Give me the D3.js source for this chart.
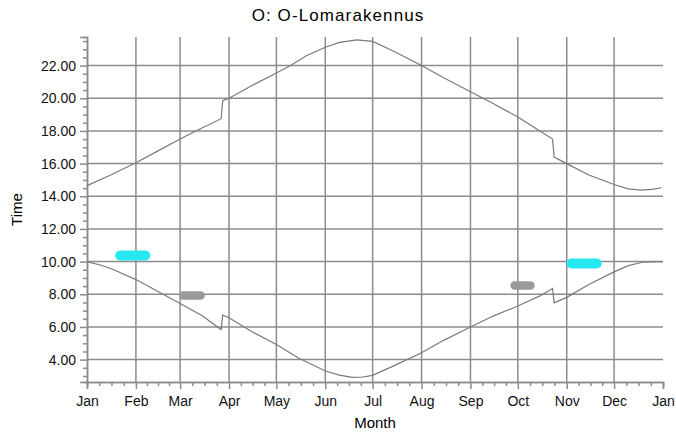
<!DOCTYPE html>
<html>
<head>
<meta charset="utf-8">
<script src="https://cdn.jsdelivr.net/npm/d3@7/dist/d3.min.js"></script>
<style>
  body { margin: 0; background: #fff; }
  svg { display: block; font-family: "Liberation Sans", Arial, sans-serif; }
</style>
</head>
<body>
<svg id="chart" width="676" height="432"></svg>
<script>
// sunset times (decimal hours)
var sunsetData = [
  ["2021-01-01", 14.65], ["2021-01-16", 15.30], ["2021-02-01", 16.05], ["2021-02-15", 16.78],
  ["2021-03-01", 17.50], ["2021-03-11", 18.00], ["2021-03-27", 18.75], ["2021-03-28", 19.85],
  ["2021-04-01", 20.00], ["2021-04-15", 20.75], ["2021-05-01", 21.55], ["2021-05-10", 22.00],
  ["2021-05-20", 22.60], ["2021-06-01", 23.12], ["2021-06-10", 23.42], ["2021-06-21", 23.57],
  ["2021-07-01", 23.48], ["2021-07-15", 22.85], ["2021-08-01", 22.00], ["2021-08-15", 21.25],
  ["2021-09-01", 20.40], ["2021-09-09", 20.00], ["2021-09-15", 19.70], ["2021-10-01", 18.85],
  ["2021-10-15", 18.00], ["2021-10-23", 17.50], ["2021-10-24", 16.40], ["2021-11-01", 16.00],
  ["2021-11-15", 15.30], ["2021-12-01", 14.72], ["2021-12-10", 14.45], ["2021-12-18", 14.38],
  ["2021-12-25", 14.42], ["2021-12-31", 14.52]
];

// sunrise times
var sunriseData = [
  ["2021-01-01", 10.00], ["2021-01-10", 9.78], ["2021-01-18", 9.50], ["2021-02-01", 8.90],
  ["2021-02-15", 8.17], ["2021-03-01", 7.43], ["2021-03-15", 6.68], ["2021-03-27", 5.84],
  ["2021-03-28", 6.72], ["2021-04-01", 6.56], ["2021-04-15", 5.74], ["2021-05-01", 4.93],
  ["2021-05-15", 4.10], ["2021-06-01", 3.30], ["2021-06-10", 3.05], ["2021-06-18", 2.91],
  ["2021-06-24", 2.92], ["2021-07-01", 3.04], ["2021-07-15", 3.65], ["2021-08-01", 4.42],
  ["2021-08-15", 5.18], ["2021-09-01", 6.00], ["2021-09-15", 6.65], ["2021-10-01", 7.28],
  ["2021-10-15", 7.90], ["2021-10-23", 8.36], ["2021-10-24", 7.48], ["2021-11-01", 7.81],
  ["2021-11-15", 8.60], ["2021-12-01", 9.37], ["2021-12-10", 9.75], ["2021-12-19", 9.96],
  ["2022-01-01", 10.00]
];

// short marked periods: [from, to, time]
var cyanBands = [["2021-01-22", "2021-02-07", 10.37], ["2021-11-04", "2021-11-20", 9.88]];
var grayBands = [["2021-03-03", "2021-03-14", 7.92], ["2021-09-29", "2021-10-09", 8.54]];

var yTicks = [4, 6, 8, 10, 12, 14, 16, 18, 20, 22];
var monthLabels = ["Jan", "Feb", "Mar", "Apr", "May", "Jun", "Jul", "Aug", "Sep", "Oct", "Nov", "Dec", "Jan"];

var parse = d3.timeParse("%Y-%m-%d");
var svg = d3.select("#chart");

var plotLeft = 87, plotRight = 663, plotTop = 37, plotBottom = 382;
var gridColor = "#8c8c8c";

var x = d3.scaleTime()
    .domain([parse("2021-01-01"), parse("2022-01-01")])
    .range([plotLeft, plotRight]);
var y = d3.scaleLinear()
    .domain([2.63, 23.75])
    .range([plotBottom, plotTop]);

var months = d3.timeMonth.range(parse("2021-01-01"), parse("2022-01-02"));

// quarter-month minor ticks
var minorDates = [];
months.slice(0, 12).forEach(function(m) {
    var next = d3.timeMonth.offset(m, 1);
    for (var k = 1; k < 4; k++) {
        minorDates.push(new Date(+m + (next - m) * k / 4));
    }
});
var minorY = d3.range(3, 23.75, 0.5).filter(function(v) { return v % 2 != 0; });

// grid
svg.append("g").selectAll("line")
    .data(yTicks)
    .enter().append("line")
    .attr("x1", plotLeft).attr("x2", plotRight)
    .attr("y1", function(d) { return y(d); })
    .attr("y2", function(d) { return y(d); })
    .attr("stroke", gridColor).attr("stroke-width", 1.5);

svg.append("g").selectAll("line")
    .data(months.slice(1, 12))
    .enter().append("line")
    .attr("x1", function(d) { return x(d); })
    .attr("x2", function(d) { return x(d); })
    .attr("y1", plotTop).attr("y2", plotBottom)
    .attr("stroke", gridColor).attr("stroke-width", 1.5);

// axes
svg.append("g")
    .attr("transform", "translate(" + plotLeft + ",0)")
    .call(d3.axisLeft(y).tickValues(yTicks).tickSize(7).tickPadding(4).tickFormat(d3.format(".2f")));
svg.append("g")
    .attr("transform", "translate(" + plotLeft + ",0)")
    .call(d3.axisLeft(y).tickValues(minorY).tickSize(4).tickFormat(""));

svg.append("g")
    .attr("transform", "translate(0," + plotBottom + ")")
    .call(d3.axisBottom(x).tickValues(months).tickSize(7).tickPadding(7)
        .tickFormat(function(d, i) { return monthLabels[i]; }));
svg.append("g")
    .attr("transform", "translate(0," + plotBottom + ")")
    .call(d3.axisBottom(x).tickValues(minorDates).tickSize(4).tickFormat(""));

svg.selectAll(".domain").attr("stroke", gridColor).attr("stroke-width", 1.5);
svg.selectAll(".tick line").attr("stroke", gridColor).attr("stroke-width", 1.5);
svg.selectAll(".tick text").attr("font-size", "14px").attr("fill", "#111")
    .attr("font-family", "'Liberation Sans', Arial, sans-serif");

// bands
function drawBands(data, color, width) {
    svg.append("g").selectAll("line")
        .data(data)
        .enter().append("line")
        .attr("x1", function(d) { return x(parse(d[0])); })
        .attr("x2", function(d) { return x(parse(d[1])); })
        .attr("y1", function(d) { return y(d[2]); })
        .attr("y2", function(d) { return y(d[2]); })
        .attr("stroke", color)
        .attr("stroke-width", width)
        .attr("stroke-linecap", "round");
}
drawBands(cyanBands, "#26e8f0", 10);
drawBands(grayBands, "#9a9a9a", 8.5);

// sunrise / sunset lines
var line = d3.line()
    .x(function(d) { return x(parse(d[0])); })
    .y(function(d) { return y(d[1]); });

[sunsetData, sunriseData].forEach(function(series) {
    svg.append("path")
        .datum(series)
        .attr("d", line)
        .attr("fill", "none")
        .attr("stroke", "#7a7a7a")
        .attr("stroke-width", 1.2);
});

// titles
svg.append("text")
    .attr("x", 338).attr("y", 21)
    .attr("text-anchor", "middle")
    .attr("font-size", "17px")
    .attr("letter-spacing", "1.1px")
    .text("O: O-Lomarakennus");

svg.append("text")
    .attr("x", (plotLeft + plotRight) / 2).attr("y", 428)
    .attr("text-anchor", "middle")
    .attr("font-size", "15px")
    .text("Month");

svg.append("text")
    .attr("transform", "translate(22," + ((plotTop + plotBottom) / 2) + ") rotate(-90)")
    .attr("text-anchor", "middle")
    .attr("font-size", "15px")
    .text("Time");
</script>
</body>
</html>
